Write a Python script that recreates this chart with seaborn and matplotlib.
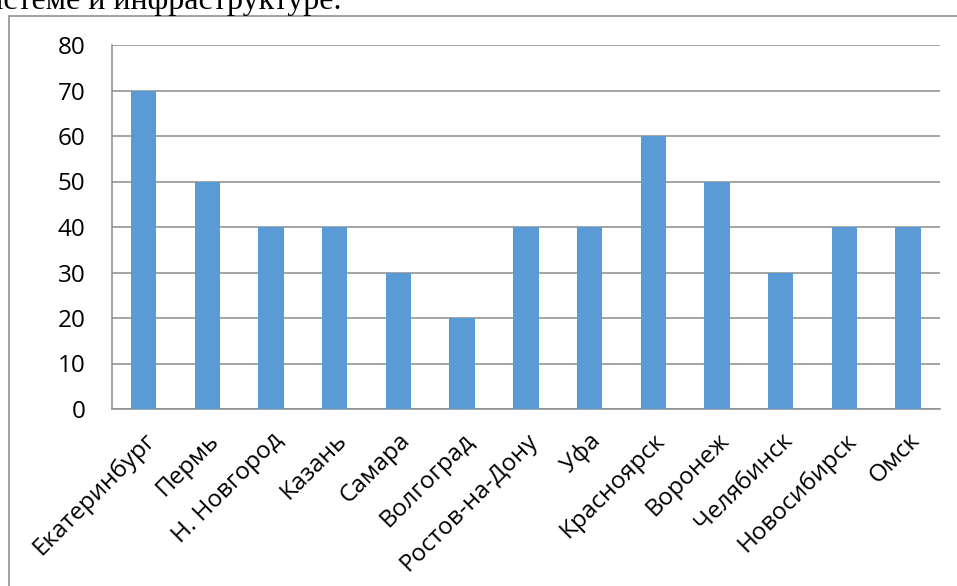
import numpy as np
import pandas as pd
import seaborn as sns
import matplotlib.pyplot as plt
from matplotlib.patches import Rectangle

# Данные с диаграммы
cities = ["Екатеринбург", "Пермь", "Н. Новгород", "Казань", "Самара", "Волгоград",
          "Ростов-на-Дону", "Уфа", "Красноярск", "Воронеж", "Челябинск",
          "Новосибирск", "Омск"]
values = [70, 50, 40, 40, 30, 20, 40, 40, 60, 50, 30, 40, 40]
yticks = [0, 10, 20, 30, 40, 50, 60, 70, 80]

df = pd.DataFrame({"city": cities, "value": values})

sns.set_theme(style="white")
plt.rcParams['font.family'] = ['Open Sans', 'DejaVu Sans']
plt.rcParams['text.color'] = 'black'
plt.rcParams['xtick.labelcolor'] = 'black'
plt.rcParams['ytick.labelcolor'] = 'black'

W, H = 957, 586
fig = plt.figure(figsize=(W / 100, H / 100), dpi=100)
ax = fig.add_axes([111.7 / W, 1 - 409 / H, (940 - 111.7) / W, (409 - 45) / H])

sns.barplot(data=df, x="city", y="value", color="#5B9BD5", saturation=1,
            width=0.4, linewidth=0, ax=ax, zorder=3)

grid_c = "#8c8c8c"
ax.set_ylim(0, 80)
ax.set_xlim(-0.5, len(cities) - 0.5)
ax.set_yticks(yticks)
ax.set_yticklabels([str(v) for v in yticks], fontsize=17.5)
ax.yaxis.grid(True, color=grid_c, linewidth=1.1, zorder=0)
ax.set_axisbelow(True)

# подписи по центрам, штрихи по границам категорий
ax.set_xticks(range(len(cities)))
ax.set_xticklabels(cities, rotation=45, ha="right", va="top",
                   rotation_mode="anchor", fontsize=17.5)
ax.set_xticks(np.arange(-0.5, len(cities), 1), minor=True)
ax.tick_params(axis="x", which="major", length=0, pad=14)
ax.tick_params(axis="x", which="minor", length=7, width=1.1, color=grid_c, direction="out")
ax.tick_params(axis="y", length=7, width=1.1, color=grid_c, direction="out", pad=12)
ax.set_xlabel("")
ax.set_ylabel("")

for s in ["top", "right"]:
    ax.spines[s].set_visible(False)
for s in ["left", "bottom"]:
    ax.spines[s].set_color(grid_c)
    ax.spines[s].set_linewidth(1.1)

# рамка диаграммы
fig.patches.append(Rectangle((9 / W, -0.1), 1.2, 1 - 16 / H + 0.1, transform=fig.transFigure,
                             fill=False, edgecolor="#9a9a9a", linewidth=1.3))

# обрезанная строка текста сверху
fig.text(341 / W, 1 - 9 / H, "системе и инфраструктуре.", ha="right", va="baseline",
         family=["Liberation Serif", "DejaVu Serif"], fontsize=23, color="black")

fig.savefig("out.png", dpi=100)
